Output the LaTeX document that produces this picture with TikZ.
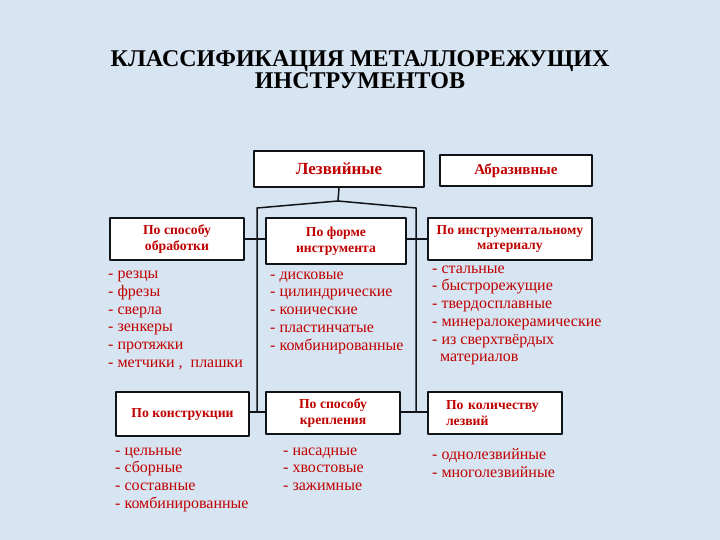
\documentclass[tikz,border=0pt]{standalone}
\usepackage{fontspec}
\setmainfont{Liberation Serif}
\usepackage{xcolor}
\usepackage{tikz}
\usetikzlibrary{positioning,calc}
\definecolor{paper}{HTML}{D7E4F1}
\definecolor{ink}{HTML}{C00000}
\definecolor{line}{HTML}{101418}

\tikzset{
  catbox/.style={draw=line,line width=1.6pt,fill=white,inner sep=2pt,
    font=\bfseries\fontsize{13.7}{15.5}\selectfont,text=ink,align=center},
  itemlist/.style={anchor=north west,inner sep=0pt,align=left,text=ink,
    font=\fontsize{16}{17.7}\selectfont},
  link/.style={draw=line,line width=1.5pt}
}

\begin{document}
\begin{tikzpicture}[x=1pt,y=-1pt,line cap=round,line join=round]
  \fill[paper] (0,0) rectangle (720,540);
  \useasboundingbox (0,0) rectangle (720,540);

  % title
  \node[font=\bfseries\fontsize{24}{22.5}\selectfont,align=center] (title) at (360,69.5)
    {КЛАССИФИКАЦИЯ МЕТАЛЛОРЕЖУЩИХ\\ИНСТРУМЕНТОВ};

  % top row
  \node[catbox,minimum width=170pt,minimum height=36pt,font=\bfseries\fontsize{17}{19}\selectfont] (lez) at (339,169) {Лезвийные};
  \node[catbox,minimum width=152pt,minimum height=31pt,font=\bfseries\fontsize{15}{17}\selectfont] (abr) at (516,170.5) {Абразивные};

  % first row of criteria
  \node[catbox,minimum width=134pt,minimum height=42pt] (obr) at (177,239) {По способу\\обработки};
  \node[catbox,minimum width=140pt,minimum height=46pt] (forma) at (336,241) {По форме\\инструмента};
  \node[catbox,minimum width=164pt,minimum height=42pt] (mat) at (510,239) {По инструментальному\\материалу};

  % second row of criteria
  \node[catbox,minimum width=133pt,minimum height=44pt] (konstr) at (182.5,414) {По конструкции};
  \node[catbox,minimum width=134pt,minimum height=42pt] (krep) at (333,413) {По способу\\крепления};
  \node[catbox,minimum width=134pt,minimum height=42pt,align=left,text width=98pt] (kol) at (495,413) {По количеству\\лезвий};

  % tree
  \coordinate (fork) at (338,201);
  \coordinate (forkL) at (257,208);
  \coordinate (forkR) at (416,208);
  \coordinate (endL) at (257,412);
  \coordinate (endR) at (416,412);
  \draw[link] (lez.south) -- (fork);
  \draw[link] (endL) -- (forkL) -- (fork) -- (forkR) -- (endR);
  \draw[link] (obr.east) -- (obr.east -| forma.west);
  \draw[link] (forma.east |- mat.west) -- (mat.west);
  \draw[link] (konstr.east |- endL) -- (endL -| krep.west);
  \draw[link] (krep.east |- endR) -- (endR -| kol.west);

  % lists
  \node[itemlist] (l1) at (108,271) {- резцы\\- фрезы\\- сверла\\- зенкеры\\- протяжки\\- метчики ,\ \ плашки};
  \node[itemlist] (l2) at (270,271.5) {- дисковые\\- цилиндрические\\- конические\\- пластинчатые\\- комбинированные};
  \node[itemlist] (l3) at (432,265.5) {- стальные\\- быстрорежущие\\- твердосплавные\\- минералокерамические\\- из сверхтвёрдых\\\ \ материалов};
  \node[itemlist] (l4) at (115,447.5) {- цельные\\- сборные\\- составные\\- комбинированные};
  \node[itemlist] (l5) at (283,447.5) {- насадные\\- хвостовые\\- зажимные};
  \node[itemlist] (l6) at (432,448.5) {- однолезвийные\\- многолезвийные};
\end{tikzpicture}
\end{document}
